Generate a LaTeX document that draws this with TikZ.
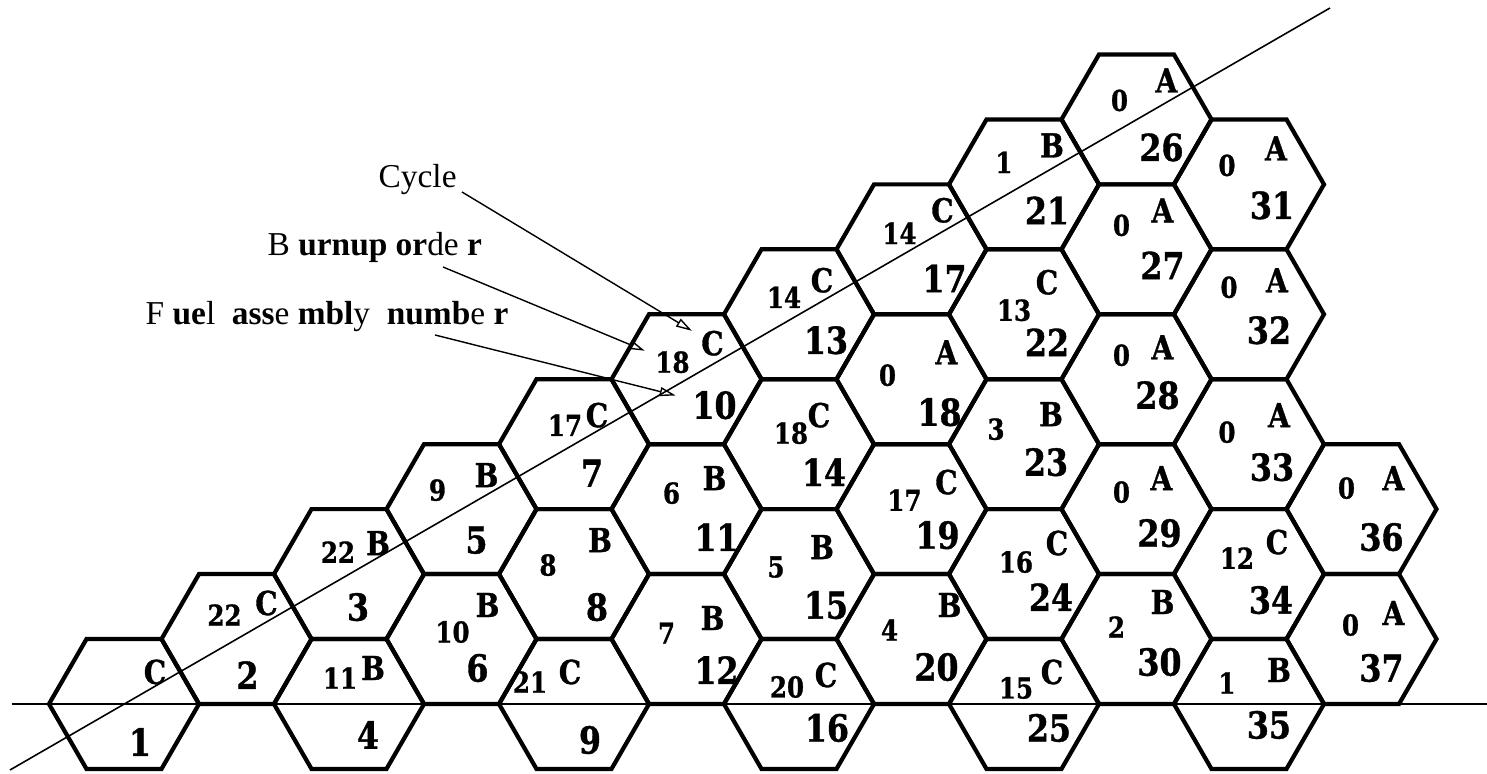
\documentclass[tikz,border=0pt]{standalone}
\usepackage{fontspec}
\setmainfont{Liberation Serif}
\newfontfamily\hexfont{DejaVu Serif}[FakeStretch=0.85, BoldFeatures={FakeBold=1}]
\usetikzlibrary{arrows.meta, shapes.geometric, calc}

\begin{document}
\begin{tikzpicture}[x=0.1mm, y=-0.1mm,
      hexa/.style = {draw, regular polygon, regular polygon sides=6,
                     minimum size=15mm, inner sep=0pt, line width=1.2pt},
      brn/.style  = {font=\hexfont\bfseries\fontsize{8.2}{9}\selectfont, inner sep=0pt},
      cyl/.style  = {font=\hexfont\bfseries\fontsize{9.4}{10}\selectfont, inner sep=0pt},
      fan/.style  = {font=\hexfont\bfseries\fontsize{10.6}{11}\selectfont, inner sep=0pt},
      note/.style = {font=\fontsize{9.5}{10}\selectfont, anchor=west, inner sep=0pt},
      arr/.style  = {-{Triangle[open, length=1.6mm, width=0.9mm]}, line width=0.4pt},
      axis/.style = {line width=0.45pt}
    ]
    \useasboundingbox (0,0) rectangle (1487,774);

    \foreach \id/\col/\row/\bu/\bux/\buy/\cy/\cyx/\cyy/\fax/\fay in {
        1/1/0//0/0/C/31/-32/16/38,
        2/2/1/22/-12/-24/C/30/-36/11/36,
        3/3/2/22/-11/-22/B/29/-31/9/33,
        4/3/0/11/-9/-26/B/24/-36/19/31,
        5/4/3/9/-24/-19/B/25/-34/15/31,
        6/4/1/10/-9/-7/B/26/-34/16/29,
        7/5/4/17/-9/-19/C/23/-29/18/29,
        8/5/2/8/-26/-9/B/26/-34/23/33,
        9/5/0/21/-44/-22/C/-4/-32/16/36,
        10/6/5/18/-14/-17/C/26/-36/28/26,
        11/6/3/6/-15/-16/B/28/-31/30/28,
        12/6/1/7/-20/-6/B/26/-21/30/31,
        13/7/6/14/-15/-17/C/23/-34/27/26,
        14/7/4/18/-8/-11/C/20/-29/25/28,
        15/7/2/5/-23/-7/B/23/-27/27/31,
        16/7/0/20/-12/-17/C/27/-29/28/24,
        17/8/7/14/-12/-16/C/31/-39/33/29,
        18/8/5/0/-24/-4/A/35/-27/28/33,
        19/8/3/17/-7/-9/C/35/-27/26/26,
        20/8/1/4/-22/-9/B/38/-34/25/28,
        21/9/8/1/-20/-22/B/28/-39/23/26,
        22/9/6/13/-10/-4/C/23/-32/23/28,
        23/9/4/3/-28/-15/B/27/-30/22/18,
        24/9/2/16/-8/-12/C/33/-31/27/23,
        25/9/0/15/-8/-16/C/28/-32/25/24,
        26/10/9/0/-17/-19/A/30/-39/25/28,
        27/10/7/0/-15/-24/A/26/-39/26/16,
        28/10/5/0/-15/-24/A/26/-32/21/16,
        29/10/3/0/-15/-17/A/25/-31/23/24,
        30/10/1/2/-20/-12/B/26/-37/23/23,
        31/11/8/0/-22/-19/A/27/-36/23/21,
        32/11/6/0/-20/-27/A/28/-34/20/16,
        33/11/4/0/-22/-12/A/30/-29/23/23,
        34/11/2/12/-12/-16/C/28/-32/22/26,
        35/11/0/1/-22/-21/B/30/-34/20/21,
        36/12/3/0/-15/-21/A/32/-31/20/28,
        37/12/1/0/-11/-14/A/32/-26/20/29}{
      \node[hexa] (h\id) at ({124+(\col-1)*112.5}, {704-\row*64.95}) {};
      \node[brn]  (s\id) at ($(h\id)+(\bux,\buy)$) {\bu};
      \node[cyl]  (l\id) at ($(h\id)+(\cyx,\cyy)$) {\cy};
      \node[fan]  (b\id) at ($(h\id)+(\fax,\fay)$) {\id};
    }

    \coordinate (hl) at (12,704);
    \coordinate (hr) at (1487,704);
    \coordinate (dl) at (10,770);
    \coordinate (dr) at (1330,8);
    \draw[axis] (hl) -- (hr);
    \draw[axis] (dl) -- (dr);

    \node[note] (cyc) at (378,180) {Cycle};
    \node[note] (bur) at (267,247) {B \textbf{urnup} \textbf{or}de \textbf{r}};
    \node[note] (fuel) at (145,317) {F \textbf{ue}l~ \textbf{ass}e \textbf{mbl}y~ \textbf{numb}e \textbf{r}};

    \coordinate (cycT)  at (462,192);
    \coordinate (burT)  at (443,267);
    \coordinate (fuelT) at (435,335);
    \draw[arr, shorten >=2.4mm] (cycT)  -- (l10.center);
    \draw[arr, shorten >=3mm]   (burT)  -- (s10.center);
    \draw[arr, shorten >=4mm]   (fuelT) -- (b10.center);
  \end{tikzpicture}
\end{document}
